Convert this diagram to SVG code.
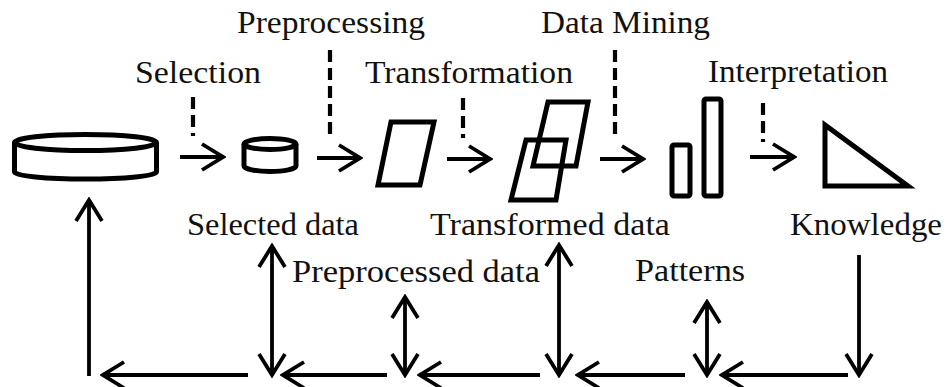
<svg xmlns="http://www.w3.org/2000/svg" width="948" height="387" viewBox="0 0 948 387">
<defs>
<style>
.lbl{font-family:"Liberation Serif","Times New Roman",serif;font-size:31px;fill:#111}
.shp{fill:none;stroke:#000;stroke-width:5;stroke-linejoin:miter}
.ln{fill:none;stroke:#000;stroke-width:3.8}
.dash{fill:none;stroke:#000;stroke-width:4.2;stroke-dasharray:12 6}
</style>
<marker id="ah" viewBox="0 0 26 30" refX="23" refY="15" markerWidth="26" markerHeight="30" markerUnits="userSpaceOnUse" orient="auto-start-reverse">
<path d="M2,2 L23,15 L2,28" fill="none" stroke="#000" stroke-width="3.8"/>
</marker>
</defs>
<rect width="948" height="387" fill="#fff"/>

<g id="labels">
<text class="lbl" x="237" y="33" textLength="188" lengthAdjust="spacingAndGlyphs">Preprocessing</text>
<text class="lbl" x="541" y="33" textLength="169" lengthAdjust="spacingAndGlyphs">Data Mining</text>
<text class="lbl" x="135" y="83" textLength="126" lengthAdjust="spacingAndGlyphs">Selection</text>
<text class="lbl" x="365" y="83" textLength="208" lengthAdjust="spacingAndGlyphs">Transformation</text>
<text class="lbl" x="708" y="82" textLength="180" lengthAdjust="spacingAndGlyphs">Interpretation</text>
</g>

<g id="node-database">
<ellipse class="shp" cx="85.5" cy="142.5" rx="71" ry="8"/>
<path class="shp" d="M14.5,142.5 V172 A71,7 0 0 0 156.5,172 V142.5"/>
</g>

<g id="node-selected-data">
<ellipse class="shp" cx="270" cy="144" rx="26" ry="5.5"/>
<path class="shp" d="M244,144 V166 A26,5.5 0 0 0 296,166 V144"/>
<text class="lbl" x="187" y="235" textLength="172" lengthAdjust="spacingAndGlyphs">Selected data</text>
</g>

<g id="node-preprocessed-data">
<polygon class="shp" points="391,122 434,122 420,185 378,185"/>
<text class="lbl" x="292" y="282" textLength="248" lengthAdjust="spacingAndGlyphs">Preprocessed data</text>
</g>

<g id="node-transformed-data">
<polygon class="shp" points="548,102 588,102 576,166 533,166"/>
<polygon class="shp" points="526,140 566,140 556,200 511,200"/>
<text class="lbl" x="430" y="235" textLength="240" lengthAdjust="spacingAndGlyphs">Transformed data</text>
</g>

<g id="node-patterns">
<rect class="shp" x="672" y="145" width="18" height="51" rx="2"/>
<rect class="shp" x="704" y="99" width="17" height="97" rx="2"/>
<text class="lbl" x="635" y="281" textLength="110" lengthAdjust="spacingAndGlyphs">Patterns</text>
</g>

<g id="node-knowledge">
<polygon class="shp" points="825,125 825,186 908,186"/>
<text class="lbl" x="790" y="235" textLength="152" lengthAdjust="spacingAndGlyphs">Knowledge</text>
</g>

<g id="connectors">
<line class="dash" x1="193" y1="97" x2="193" y2="136"/>
<line class="dash" x1="330" y1="50" x2="330" y2="140"/>
<line class="dash" x1="463" y1="98" x2="463" y2="138"/>
<line class="dash" x1="615" y1="50" x2="615" y2="138"/>
<line class="dash" x1="763" y1="103" x2="763" y2="142"/>

<line class="ln" x1="180" y1="157" x2="223" y2="157" marker-end="url(#ah)"/>
<line class="ln" x1="317" y1="158" x2="360" y2="158" marker-end="url(#ah)"/>
<line class="ln" x1="447" y1="159" x2="490" y2="159" marker-end="url(#ah)"/>
<line class="ln" x1="600" y1="159" x2="643" y2="159" marker-end="url(#ah)"/>
<line class="ln" x1="750" y1="157" x2="794" y2="157" marker-end="url(#ah)"/>

<line class="ln" x1="89" y1="376" x2="89" y2="200" marker-end="url(#ah)"/>
<line class="ln" x1="248" y1="375" x2="103" y2="375" marker-end="url(#ah)"/>
<line class="ln" x1="387" y1="375" x2="283" y2="375" marker-end="url(#ah)"/>
<line class="ln" x1="540" y1="375" x2="420" y2="375" marker-end="url(#ah)"/>
<line class="ln" x1="685" y1="375" x2="578" y2="375" marker-end="url(#ah)"/>
<line class="ln" x1="848" y1="375" x2="722" y2="375" marker-end="url(#ah)"/>

<line class="ln" x1="272" y1="246" x2="272" y2="375" marker-start="url(#ah)" marker-end="url(#ah)"/>
<line class="ln" x1="405" y1="297" x2="405" y2="375" marker-start="url(#ah)" marker-end="url(#ah)"/>
<line class="ln" x1="559" y1="245" x2="559" y2="375" marker-start="url(#ah)" marker-end="url(#ah)"/>
<line class="ln" x1="707" y1="302" x2="707" y2="375" marker-start="url(#ah)" marker-end="url(#ah)"/>
<line class="ln" x1="859" y1="255" x2="859" y2="375" marker-end="url(#ah)"/>
</g>
</svg>
